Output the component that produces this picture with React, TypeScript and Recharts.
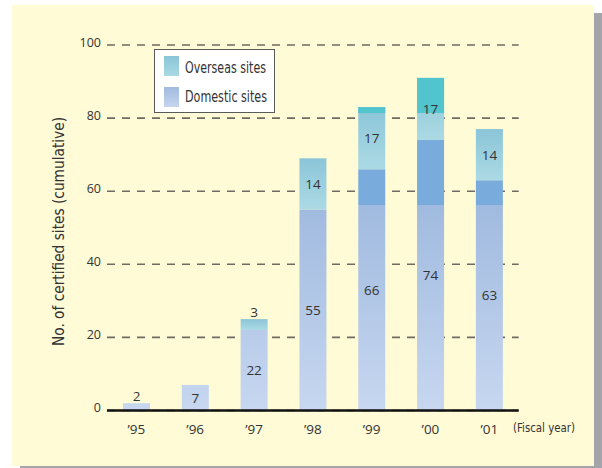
import React from "react";
import { BarChart, Bar, XAxis, YAxis, CartesianGrid, LabelList } from "recharts";

// ---- data ----
const categories = ["\u201995", "\u201996", "\u201997", "\u201998", "\u201999", "\u201900", "\u201901"];
const domesticSites = [2, 7, 22, 55, 66, 74, 63];
const overseasSites = [0, 0, 3, 14, 17, 17, 14];
const yTicks = [0, 20, 40, 60, 80, 100];
const legendLabels = ["Overseas sites", "Domestic sites"];
const yTitle = "No. of certified sites (cumulative)";
const xUnit = "(Fiscal year)";

const data = categories.map((c, i) => ({
  year: c,
  domestic: domesticSites[i],
  overseas: overseasSites[i],
}));

// ---- layout / style constants ----
const W = 602;
const H = 468;
const PLOT_TOP = 45;
const PLOT_BOTTOM = 410.5;
const PLOT_LEFT = 107;
const PLOT_RIGHT = 518.7;
const X_AXIS_H = 30;
const Y_AXIS_W = 60;
const PLOT_H = PLOT_BOTTOM - PLOT_TOP;
// band limits of the original artwork's shading (in value units)
const DOM_DARK_FROM = 56.3;
const OV_TEAL_FROM = 81.4;
const TEAL_Y = PLOT_TOP + PLOT_H * (1 - OV_TEAL_FROM / 100);
const DOM_OFFSET = 1 - DOM_DARK_FROM / 100;

const NUM_FONT = "'Open Sans', 'Noto Sans', sans-serif";
const NARROW_FONT = "'Liberation Sans Narrow', 'Arial Narrow', 'DejaVu Sans Condensed', 'Liberation Sans', sans-serif";
const TEXT = "#333333";

const OverseasShape = (props: any) => {
  const { x, y, width, height } = props;
  if (!height || height <= 0) return null;
  const bottom = y + height;
  const tealBottom = Math.min(bottom, TEAL_Y);
  return (
    <g>
      <rect x={x} y={y} width={width} height={height} fill="url(#ovGrad)" />
      {y < TEAL_Y ? (
        <rect x={x} y={y} width={width} height={tealBottom - y} fill="#52c4ce" />
      ) : null}
    </g>
  );
};

const makeLabel = (props: any) => {
  const { x, y, width, height, value } = props;
  if (!value) return null;
  const cx = Number(x) + Number(width) / 2;
  const small = Number(height) < 14;
  const ty = small ? Number(y) - 7.5 : Number(y) + Number(height) / 2;
  return (
    <text
      x={cx}
      y={ty}
      textAnchor="middle"
      dominantBaseline="central"
      fontFamily={NUM_FONT}
      fontSize={13.5}
      fill={TEXT}
    >
      {value}
    </text>
  );
};

const YTick = (props: any) => {
  const { x, y, payload } = props;
  return (
    <text
      x={x}
      y={y - 3}
      textAnchor="end"
      dominantBaseline="central"
      fontFamily={NUM_FONT}
      fontSize={12.5}
      fill={TEXT}
    >
      {payload.value}
    </text>
  );
};

const XTick = (props: any) => {
  const { x, y, payload } = props;
  return (
    <text
      x={x}
      y={y + 23}
      textAnchor="middle"
      fontFamily={NUM_FONT}
      fontSize={13.5}
      fill={TEXT}
    >
      {payload.value}
    </text>
  );
};

export default function App() {
  return (
    <div style={{ position: "absolute", left: 0, top: 0, width: W, height: H, overflow: "hidden", background: "#ffffff" }}>
      {/* page background and shadow */}
      <div style={{ position: "absolute", left: 12, top: 5, width: 582, height: 461, background: "#fffbd7" }} />
      <div style={{ position: "absolute", left: 594, top: 13, width: 8, height: 455, background: "#a4a4ab" }} />
      <div style={{ position: "absolute", left: 20, top: 466, width: 582, height: 2, background: "#a4a4ab" }} />

      <div style={{ position: "absolute", left: 0, top: 0 }}>
        <BarChart
          width={W}
          height={H}
          data={data}
          margin={{
            top: PLOT_TOP,
            right: W - PLOT_RIGHT,
            bottom: H - PLOT_BOTTOM - X_AXIS_H,
            left: PLOT_LEFT - Y_AXIS_W,
          }}
          barSize={27}
        >
          <defs>
            <linearGradient
              id="domGrad"
              gradientUnits="userSpaceOnUse"
              x1={0}
              y1={PLOT_TOP}
              x2={0}
              y2={PLOT_BOTTOM}
            >
              <stop offset={0} stopColor="#79acdc" />
              <stop offset={DOM_OFFSET} stopColor="#79acdc" />
              <stop offset={DOM_OFFSET} stopColor="#a0badf" />
              <stop offset={1} stopColor="#c7d7f0" />
            </linearGradient>
            <linearGradient id="ovGrad" x1="0" y1="0" x2="0" y2="1">
              <stop offset="0" stopColor="#8bc5d8" />
              <stop offset="1" stopColor="#abdae4" />
            </linearGradient>
          </defs>
          <CartesianGrid
            vertical={false}
            stroke="#6f6b62"
            strokeWidth={1.6}
            strokeDasharray="8 7"
          />
          <YAxis
            type="number"
            domain={[0, 100]}
            ticks={yTicks}
            width={Y_AXIS_W}
            axisLine={false}
            tickLine={false}
            tickSize={6}
            tickMargin={0}
            tick={<YTick />}
            interval={0}
          />
          <Bar dataKey="domestic" stackId="a" fill="url(#domGrad)" isAnimationActive={false}>
            <LabelList dataKey="domestic" content={makeLabel} />
          </Bar>
          <Bar dataKey="overseas" stackId="a" fill="#8bc5d8" shape={<OverseasShape />} isAnimationActive={false}>
            <LabelList dataKey="overseas" content={makeLabel} />
          </Bar>
          <XAxis
            dataKey="year"
            height={X_AXIS_H}
            axisLine={{ stroke: "#111111", strokeWidth: 2.5 }}
            tickLine={false}
            tickSize={0}
            tickMargin={0}
            tick={<XTick />}
            interval={0}
          />
        </BarChart>
      </div>

      <svg width={W} height={H} style={{ position: "absolute", left: 0, top: 0, pointerEvents: "none" }}>
        <defs>
          <linearGradient id="lgOv" x1="0" y1="0" x2="0" y2="1">
            <stop offset="0" stopColor="#8bc5d8" />
            <stop offset="1" stopColor="#a9d9e4" />
          </linearGradient>
          <linearGradient id="lgDom" x1="0" y1="0" x2="0" y2="1">
            <stop offset="0" stopColor="#a0badf" />
            <stop offset="1" stopColor="#c5d5ef" />
          </linearGradient>
        </defs>
        {/* legend */}
        <rect x={154.5} y={49.5} width={120} height={63} fill="#ffffff" stroke="#5a5a5a" strokeWidth={1} />
        <rect x={164} y={56} width={15} height={20} fill="url(#lgOv)" />
        <rect x={164} y={87} width={15} height={20} fill="url(#lgDom)" />
        <text x={185} y={73} fontFamily={NARROW_FONT} fontSize={15} fill={TEXT} textLength={81} lengthAdjust="spacingAndGlyphs">
          {legendLabels[0]}
        </text>
        <text x={185} y={102} fontFamily={NARROW_FONT} fontSize={15} fill={TEXT} textLength={82} lengthAdjust="spacingAndGlyphs">
          {legendLabels[1]}
        </text>

        <text
          x={0}
          y={0}
          transform={`translate(64, 231.5) rotate(-90)`}
          textAnchor="middle"
          fontFamily={NARROW_FONT}
          fontSize={16}
          fill={TEXT}
          textLength={229}
          lengthAdjust="spacingAndGlyphs"
        >
          {yTitle}
        </text>
        <text
          x={513}
          y={432}
          fontFamily={NARROW_FONT}
          fontSize={13}
          fill={TEXT}
          textLength={62}
          lengthAdjust="spacingAndGlyphs"
        >
          {xUnit}
        </text>
      </svg>
    </div>
  );
}
